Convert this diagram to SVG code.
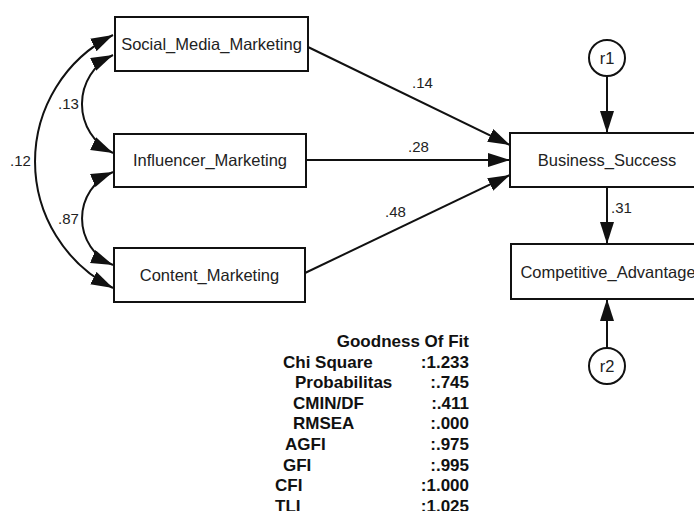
<svg xmlns="http://www.w3.org/2000/svg" width="694" height="511" viewBox="0 0 694 511">
  <style>
    .box { fill: #ffffff; stroke: #111111; stroke-width: 2; }
    .circ { fill: #ffffff; stroke: #111111; stroke-width: 2; }
    .lbl { font-family: "Liberation Sans", Arial, sans-serif; font-size: 16.5px; fill: #222222; text-anchor: middle; }
    .coef { font-family: "Liberation Sans", Arial, sans-serif; font-size: 15px; fill: #222222; }
    .fit { font-family: "Liberation Sans", Arial, sans-serif; font-size: 17px; font-weight: bold; fill: #111111; }
    .fit .v { text-anchor: end; }
    .edge { fill: none; stroke: #111111; stroke-width: 2; }
  </style>
  <defs>
    <marker id="head" markerUnits="userSpaceOnUse" markerWidth="24" markerHeight="16" refX="22" refY="7" orient="auto-start-reverse">
      <path d="M0,0 L22,7 L0,14 z" fill="#111111"/>
    </marker>
  </defs>

  <rect width="694" height="511" fill="#ffffff"/>

  <!-- connectors -->
  <g id="connectors">
    <!-- covariances -->
    <path class="edge" d="M113,35 A141.6,141.6 0 0 0 113,288" marker-start="url(#head)" marker-end="url(#head)"/>
    <path class="edge" d="M113,55 A54.2,54.2 0 0 0 113,153" marker-start="url(#head)" marker-end="url(#head)"/>
    <path class="edge" d="M113,172 A50.4,50.4 0 0 0 113,265" marker-start="url(#head)" marker-end="url(#head)"/>
    <text class="coef" x="58" y="109">.13</text>
    <text class="coef" x="10" y="166">.12</text>
    <text class="coef" x="58" y="224">.87</text>

    <!-- regression paths -->
    <path class="edge" d="M308,47 L510,145" marker-end="url(#head)"/>
    <path class="edge" d="M306,160 L510,160" marker-end="url(#head)"/>
    <path class="edge" d="M305,273 L510,175" marker-end="url(#head)"/>
    <text class="coef" x="412" y="88">.14</text>
    <text class="coef" x="408" y="152">.28</text>
    <text class="coef" x="385" y="217">.48</text>

    <path class="edge" d="M607,187 L607,244" marker-end="url(#head)"/>
    <text class="coef" x="611" y="213">.31</text>

    <!-- residuals -->
    <path class="edge" d="M607,76 L607,133" marker-end="url(#head)"/>
    <path class="edge" d="M607,348 L607,299" marker-end="url(#head)"/>
  </g>

  <g id="Social_Media_Marketing">
    <rect class="box" x="115" y="17" width="193" height="54"/>
    <text class="lbl" x="211.5" y="50">Social_Media_Marketing</text>
  </g>
  <g id="Influencer_Marketing">
    <rect class="box" x="114" y="134" width="192" height="53"/>
    <text class="lbl" x="210" y="166">Influencer_Marketing</text>
  </g>
  <g id="Content_Marketing">
    <rect class="box" x="114" y="248" width="191" height="54"/>
    <text class="lbl" x="209.5" y="281">Content_Marketing</text>
  </g>
  <g id="Business_Success">
    <rect class="box" x="510" y="133" width="194" height="54"/>
    <text class="lbl" x="607" y="166">Business_Success</text>
  </g>
  <g id="Competitive_Advantage">
    <rect class="box" x="511" y="244" width="194" height="55"/>
    <text class="lbl" x="608" y="277.5">Competitive_Advantage</text>
  </g>
  <g id="r1">
    <circle class="circ" cx="607" cy="58" r="18"/>
    <text class="lbl" x="607" y="64">r1</text>
  </g>
  <g id="r2">
    <circle class="circ" cx="607" cy="366" r="18"/>
    <text class="lbl" x="607" y="372">r2</text>
  </g>

  <!-- fit statistics -->
  <g id="goodness_of_fit" class="fit">
    <text class="v" x="469" y="347">Goodness Of Fit</text>
    <text x="283" y="367.5">Chi Square</text>
    <text class="v" x="469" y="367.5">:1.233</text>
    <text x="295" y="388">Probabilitas</text>
    <text class="v" x="469" y="388">:.745</text>
    <text x="293" y="408.5">CMIN/DF</text>
    <text class="v" x="469" y="408.5">:.411</text>
    <text x="293" y="429">RMSEA</text>
    <text class="v" x="469" y="429">:.000</text>
    <text x="285" y="450">AGFI</text>
    <text class="v" x="469" y="450">:.975</text>
    <text x="283" y="470.5">GFI</text>
    <text class="v" x="469" y="470.5">:.995</text>
    <text x="275" y="491">CFI</text>
    <text class="v" x="469" y="491">:1.000</text>
    <text x="275" y="512">TLI</text>
    <text class="v" x="469" y="512">:1.025</text>
  </g>
</svg>
